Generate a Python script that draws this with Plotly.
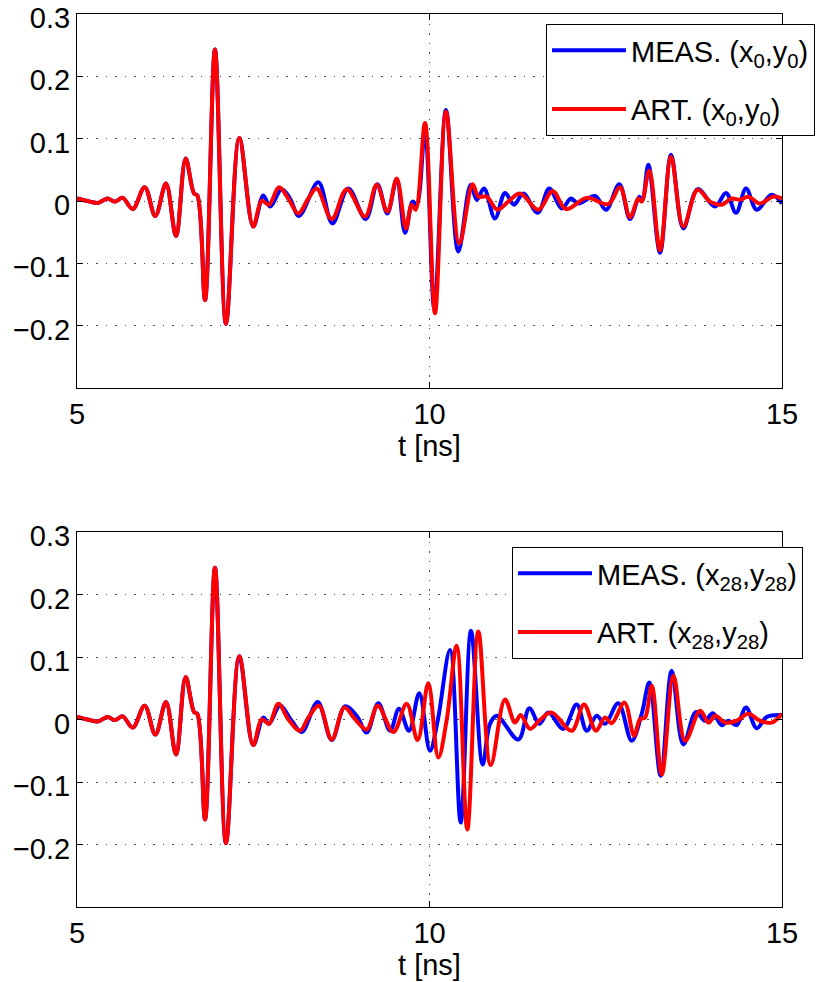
import plotly.graph_objects as go

# ---------------- data ----------------
# common onset part (identical in both measurement and artificial traces)
t_pre = [5.0, 5.184, 5.302, 5.43, 5.539, 5.648, 5.79, 5.96, 6.111, 6.262, 6.404, 6.541,
         6.66, 6.707, 6.816, 6.957, 7.113, 7.302, 7.50]
v_pre_top = [0.004, -0.001, -0.003, 0.004, -0.001, 0.005, -0.013, 0.022, -0.024, 0.028, -0.056, 0.068,
             0.012, 0.009, -0.159, 0.243, -0.197, 0.101, -0.041]
v_pre_bot = [0.004, -0.001, -0.003, 0.004, -0.001, 0.005, -0.013, 0.022, -0.024, 0.028, -0.056, 0.068,
             0.012, 0.009, -0.160, 0.243, -0.198, 0.101, -0.041]

# top panel, position (x0, y0)
t_meas_0 = [7.643, 7.738, 7.903, 8.021, 8.149, 8.423, 8.622, 8.848, 9.095, 9.26, 9.402, 9.535,
            9.653, 9.761, 9.818, 9.936, 10.068, 10.234, 10.409, 10.584, 10.67, 10.773, 10.929,
            11.071, 11.199, 11.33, 11.535, 11.699, 11.875, 12.007, 12.111, 12.348, 12.504,
            12.692, 12.844, 12.976, 13.02, 13.104, 13.27, 13.426, 13.6, 13.804, 14.05, 14.206,
            14.348, 14.49, 14.641, 14.853, 15.0]
v_meas_0 = [0.009, -0.009, 0.019, 0.004, -0.024, 0.030, -0.036, 0.020, -0.029, 0.027, -0.020, 0.035,
            -0.051, -0.001, -0.006, 0.114, -0.172, 0.146, -0.081, 0.026, 0.002, 0.020, -0.028,
            0.013, -0.006, 0.012, -0.019, 0.020, -0.012, 0.004, -0.004, 0.008, -0.014,
            0.027, -0.029, 0.007, 0.002, 0.058, -0.083, 0.074, -0.044, 0.019, -0.009, 0.013,
            -0.019, 0.020, -0.014, 0.010, -0.004]
t_art_0 = [7.619, 7.723, 7.865, 7.997, 8.139, 8.281, 8.40, 8.613, 8.826, 9.085, 9.25, 9.402,
           9.535, 9.667, 9.747, 9.804, 9.936, 10.078, 10.234, 10.423, 10.612, 10.693, 10.811,
           10.962, 11.118, 11.284, 11.544, 11.747, 11.936, 12.23, 12.536, 12.702, 12.844,
           12.962, 13.01, 13.118, 13.27, 13.426, 13.6, 13.804, 13.979, 14.145, 14.286, 14.404,
           14.522, 14.688, 14.877, 15.0]
v_art_0 = [0.0005, -0.006, 0.022, 0.004, -0.020, 0.004, 0.020, -0.029, 0.019, -0.025, 0.026, -0.017,
           0.036, -0.044, -0.006, -0.014, 0.125, -0.180, 0.143, -0.068, 0.027, 0.007, 0.007,
           -0.014, -0.001, 0.012, -0.014, 0.016, -0.013, 0.005, -0.005, 0.022, -0.026,
           0.004, -0.001, 0.049, -0.079, 0.071, -0.041, 0.018, -0.001, -0.006, 0.004, 0.002,
           0.007, -0.004, 0.007, 0.004]

# bottom panel, position (x28, y28)
t_meas_28 = [7.643, 7.723, 7.879, 8.045, 8.187, 8.414, 8.613, 8.801, 8.967, 9.109, 9.274, 9.44,
             9.567, 9.709, 9.855, 10.007, 10.116, 10.291, 10.442, 10.589, 10.754, 10.858, 10.953,
             11.26, 11.416, 11.558, 11.686, 11.898, 12.088, 12.23, 12.371, 12.489, 12.678,
             12.868, 13.01, 13.118, 13.279, 13.435, 13.6, 13.78, 13.908, 14.017, 14.145, 14.239,
             14.357, 14.49, 14.641, 14.783, 15.0]
v_meas_28 = [0.003, -0.007, 0.022, -0.002, -0.020, 0.028, -0.033, 0.021, 0.006, -0.021, 0.026, -0.018,
             0.017, -0.018, 0.042, -0.050, -0.002, 0.111, -0.165, 0.142, -0.072, -0.007, 0.006,
             -0.032, 0.018, -0.007, 0.011, -0.015, 0.024, -0.018, 0.006, -0.007, 0.026,
             -0.034, 0.009, 0.059, -0.090, 0.078, -0.040, 0.012, -0.002, 0.010, -0.009, -0.002,
             -0.009, 0.019, -0.014, 0.004, 0.007]
t_art_28 = [7.619, 7.723, 7.856, 7.997, 8.163, 8.281, 8.433, 8.613, 8.792, 8.943, 9.109, 9.265,
            9.487, 9.676, 9.832, 9.983, 10.125, 10.245, 10.386, 10.536, 10.693, 10.868, 11.071,
            11.213, 11.293, 11.426, 11.567, 11.733, 12.017, 12.191, 12.362, 12.489, 12.584,
            12.766, 12.901, 12.986, 13.057, 13.153, 13.295, 13.461, 13.627, 13.839, 13.957,
            14.052, 14.194, 14.357, 14.522, 14.688, 14.853, 15.0]
v_art_28 = [0.0005, -0.007, 0.025, 0.0005, -0.018, 0.003, 0.022, -0.032, 0.019, 0.0005, -0.016, 0.022,
            -0.020, 0.025, -0.033, 0.058, -0.061, 0.000, 0.118, -0.176, 0.141, -0.073, 0.032,
            -0.005, 0.007, -0.015, -0.0005, 0.011, -0.018, 0.024, -0.018, 0.003, -0.006,
            0.027, -0.026, 0.0005, 0.003, 0.054, -0.088, 0.070, -0.034, 0.014, -0.005,
            0.006, -0.005, -0.002, 0.009, -0.002, -0.005, 0.009]

x_ticks = [5, 10, 15]
y_ticks = [-0.2, -0.1, 0, 0.1, 0.2, 0.3]
names_top = ["MEAS. (x<sub>0</sub>,y<sub>0</sub>)", "ART. (x<sub>0</sub>,y<sub>0</sub>)"]
names_bot = ["MEAS. (x<sub>28</sub>,y<sub>28</sub>)", "ART. (x<sub>28</sub>,y<sub>28</sub>)"]
x_title = "t [ns]"

# ---------------- figure ----------------
FONT = "Liberation Sans, Arial, Helvetica, sans-serif"
BLUE = "#0000FF"
RED = "#FF0000"
LW = 4

fig = go.Figure()


def add(t, v, name, color, xa, ya, legend, group):
    fig.add_trace(go.Scatter(
        x=t, y=v, name=name, mode="lines",
        line=dict(color=color, width=LW, shape="spline", smoothing=1.0),
        xaxis=xa, yaxis=ya, legend=legend, legendgroup=group,
        hoverinfo="skip"))


add(t_pre + t_meas_0, v_pre_top + v_meas_0, names_top[0], BLUE, "x", "y", "legend", "m0")
add(t_pre + t_art_0, v_pre_top + v_art_0, names_top[1], RED, "x", "y", "legend", "a0")
add(t_pre + t_meas_28, v_pre_bot + v_meas_28, names_bot[0], BLUE, "x2", "y2", "legend2", "m28")
add(t_pre + t_art_28, v_pre_bot + v_art_28, names_bot[1], RED, "x2", "y2", "legend2", "a28")

W, H = 821, 982
xdom = [77 / W, 782 / W]
ydom_top = [1 - 388 / H, 1 - 14 / H]
ydom_bot = [1 - 907 / H, 1 - 532 / H]

axis_common = dict(
    showline=True, linecolor="black", linewidth=1, mirror="ticks",
    ticks="inside", ticklen=6, tickcolor="black", tickwidth=1,
    showgrid=True, gridcolor="rgba(0,0,0,0.7)", gridwidth=1, griddash="1.5px,8px",
    zeroline=False, automargin=False, ticklabeloverflow="allow",
    tickfont=dict(family=FONT, size=29, color="black"),
)


def xaxis(anchor):
    d = dict(axis_common)
    d.update(domain=xdom, range=[5, 15], tickvals=x_ticks, anchor=anchor,
             title=dict(text=x_title, font=dict(family=FONT, size=29, color="black"), standoff=2))
    return d


def yaxis(dom, anchor):
    d = dict(axis_common)
    d.update(domain=dom, range=[-0.3, 0.3], tickvals=y_ticks, anchor=anchor, ticklabelshift=4)
    return d


legend_common = dict(
    xanchor="left", yanchor="top", bgcolor="white", bordercolor="black", borderwidth=1,
    font=dict(family=FONT, size=29, color="black"), tracegroupgap=18, itemwidth=74,
)

fig.update_layout(
    width=W, height=H,
    margin=dict(l=0, r=0, t=0, b=0),
    paper_bgcolor="white", plot_bgcolor="white",
    font=dict(family=FONT, size=29, color="black"),
    xaxis=xaxis("y"), yaxis=yaxis(ydom_top, "x"),
    xaxis2=xaxis("y2"), yaxis2=yaxis(ydom_bot, "x2"),
    legend=dict(legend_common, x=546 / W, y=1 - 24 / H),
    legend2=dict(legend_common, x=512 / W, y=1 - 547 / H),
    showlegend=True,
)

fig.write_html("out.html")
